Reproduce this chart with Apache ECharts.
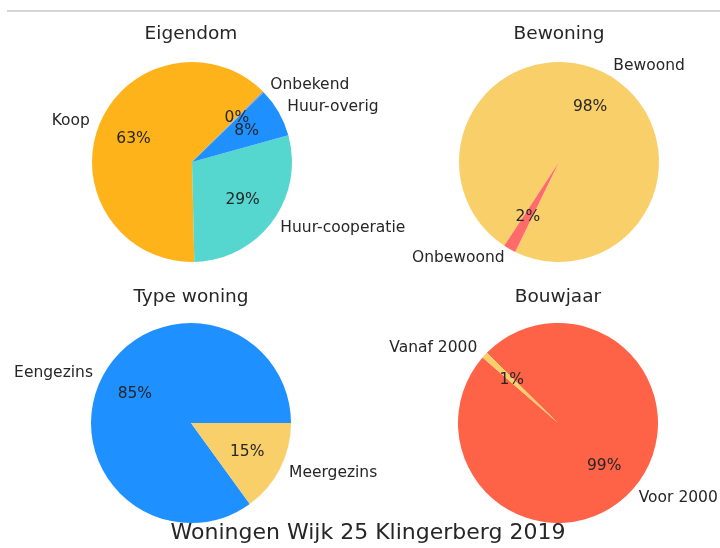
<!DOCTYPE html>
<html>
<head>
<meta charset="utf-8">
<title>Woningen Wijk 25 Klingerberg 2019</title>
<script src="https://cdn.jsdelivr.net/npm/echarts@6/dist/echarts.min.js"></script>
<style>
  html, body { margin: 0; padding: 0; background: #fff; }
  #chart { width: 720px; height: 548px; }
</style>
</head>
<body>
<div id="chart"></div>
<script>
// data per pie
var eigendomNames = ['Koop', 'Huur-cooperatie', 'Huur-overig', 'Onbekend'];
var eigendomValues = [63, 29, 8, 0.2];
var bewoningNames = ['Bewoond', 'Onbewoond'];
var bewoningValues = [98, 2];
var typeNames = ['Eengezins', 'Meergezins'];
var typeValues = [85, 15];
var bouwjaarNames = ['Voor 2000', 'Vanaf 2000'];
var bouwjaarValues = [99, 1];

var titles = ['Eigendom', 'Bewoning', 'Type woning', 'Bouwjaar'];
var mainTitle = 'Woningen Wijk 25 Klingerberg 2019';

var font = 'DejaVu Sans';
var textColor = '#262626';
var R = 100;

function toData(names, values, colors) {
    return names.map(function (n, i) {
        return { name: n, value: values[i], itemStyle: { color: colors[i] } };
    });
}

// one pie = sector series with outer names + transparent series for the % labels
function pie(names, values, colors, center, startAngle) {
    var data = toData(names, values, colors);
    var pctData = toData(names, values, colors.map(function () { return 'rgba(0,0,0,0)'; }));
    return [{
        type: 'pie',
        center: center,
        radius: [0, R],
        startAngle: startAngle,
        clockwise: false,
        avoidLabelOverlap: false,
        labelLayout: { hideOverlap: false },
        silent: true,
        animation: false,
        data: data,
        label: {
            show: true,
            position: 'outside',
            formatter: '{b}',
            color: textColor,
            fontFamily: font,
            fontSize: 15.5,
            distanceToLabelLine: 0
        },
        labelLine: { show: false, length: 10, length2: 0 }
    }, {
        type: 'pie',
        center: center,
        radius: [0, R * 1.2],
        startAngle: startAngle,
        clockwise: false,
        avoidLabelOverlap: false,
        labelLayout: { hideOverlap: false },
        silent: true,
        animation: false,
        percentPrecision: 0,
        data: pctData,
        label: {
            show: true,
            position: 'inside',
            formatter: '{d}%',
            color: textColor,
            fontFamily: font,
            fontSize: 15.5
        },
        labelLine: { show: false }
    }];
}

var myChart = echarts.init(document.getElementById('chart'));

var titleCenters = [[191, 25], [559, 25], [191, 288], [558, 288]];

var option = {
    backgroundColor: '#fff',
    title: titles.map(function (t, i) {
        return {
            text: t,
            left: titleCenters[i][0],
            top: titleCenters[i][1],
            textAlign: 'center',
            padding: 0,
            textStyle: { fontFamily: font, fontSize: 18.5, fontWeight: 'normal', color: textColor }
        };
    }).concat([{
        text: mainTitle,
        left: 368,
        top: 522,
        textAlign: 'center',
        padding: 0,
        textStyle: { fontFamily: font, fontSize: 22, fontWeight: 'normal', color: textColor }
    }]),
    graphic: [{
        type: 'line',
        shape: { x1: 7, y1: 11, x2: 720, y2: 11 },
        style: { stroke: '#c8c8c8', lineWidth: 1.5 },
        silent: true
    }],
    series: [].concat(
        pie(eigendomNames, eigendomValues, ['#FFB31A', '#55D6CE', '#1E90FF', '#9E9E9E'], [192, 162], 45),
        pie(bewoningNames, bewoningValues, ['#F9CF6A', '#FF6B6B'], [559, 162], 244),
        pie(typeNames, typeValues, ['#1E90FF', '#F9CF6A'], [191, 423], 0),
        pie(bouwjaarNames, bouwjaarValues, ['#FF6347', '#F9CF6A'], [558, 423], 139)
    )
};

myChart.setOption(option, true);
</script>
</body>
</html>
